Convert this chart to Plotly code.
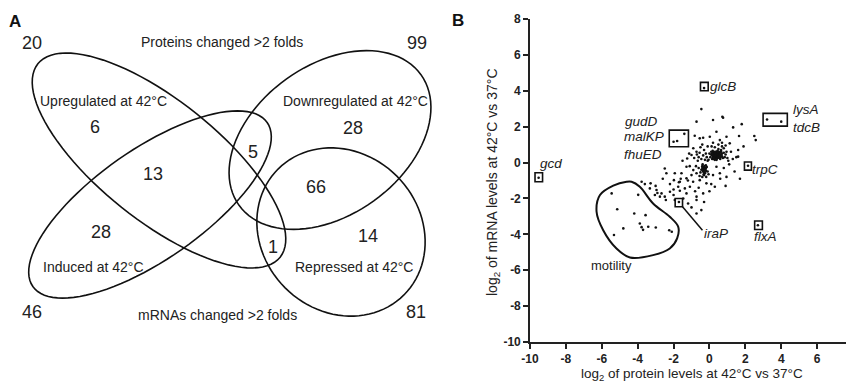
import numpy as np
import plotly.graph_objects as go

W, H = 854, 382
OFF = 8  # page body margin of the browser, compensated in layout positions
FONT = "Liberation Sans, Arial, sans-serif"

# ---------------- Panel A data (Venn counts) ----------------
venn_counts = ["20", "99", "6", "28", "5", "13", "66", "28", "14", "1", "46", "81"]
venn_labels = ["Proteins changed >2 folds", "Upregulated at 42°C", "Downregulated at 42°C",
               "Induced at 42°C", "Repressed at 42°C", "mRNAs changed >2 folds"]

# ---------------- Panel B data ----------------
cloud_x = [-0.45, -0.72, 0.2, 0.72, 0.76, 0.39, 1.32, 1.8, 1.65, 2.5, 2.58, -0.82, -0.54, -0.35, 0.02,
           0.95, 0.58, 1.13, -1.0, -1.13, -0.72, -1.24, 1.6, 1.6, -0.9, -0.72, -1.0, -1.28, -1.56, -1.93,
           -2.49, -2.4, -1.98, -1.65, -1.28, -0.91, -0.54, -0.17, 0.3, 0.58, 0.39, -3.78, -3.28, -3.32,
           -2.95, -2.67, -2.49, -2.2, -2.0, -1.74, -1.65, -1.37, -1.28, -1.09, -1.46, -0.72, -0.35, -0.72,
           -0.45, -0.72, -2.43, -2.76, -3.04, -1.93, -1.19,
           0.05, 0.1, 0.15, 0.2, 0.25, 0.3, 0.35, 0.4, 0.45, 0.5, 0.55, 0.6, 0.65, 0.7, 0.8, 0.85, 0.2, 0.3,
           0.4, 0.35, 0.5, 0.25, 0.45, 0.6, 0.15, 0.55, 0.3, 0.7, 0.4, 0.1, 0.65, 0.75, 0.9, 0.5, 0.33, 0.43,
           0.38, 0.27, 0.48, 0.58, 0.22, 0.62, 0.18, 0.95, 0.0, -0.05, 1.0, 0.8, 0.3, 0.12,
           -0.4, -0.3, -0.2, -0.35, -0.25, -0.45, -0.15, -0.3, -0.5, -0.2, -0.4, -0.1, -0.28, -0.33, -0.22,
           -0.6, -0.55, -0.05, -0.38, -0.18,
           -0.7, -0.6, -0.55, -0.45, -0.35, -0.25, -0.2, -0.15, -0.1, -0.65, -0.85, -0.3, -0.5, -0.1, -0.4,
           0.2, 0.5, 0.7, 0.9, 1.2, 1.3, 1.1, 0.8, 0.6, 0.2, 0.1, -0.8, -1.1, -1.5, -1.2, -1.6, -2.2, -2.6,
           -3.0, -3.6, -2.0, -1.0, -0.3, 0.0, 1.5, 1.4, 0.9,
           0.25, 0.35, 0.45, 0.3, 0.4, 0.5, 0.2, 0.6, 0.35, 0.45, 0.28, 0.52, 0.42, 0.32, 0.38, 0.48, 0.55,
           0.15, 0.65, 0.25, -0.25, -0.35, -0.3, -0.2, -0.4, -0.28, -0.32, -0.22, -0.38, -0.27,
           0.7, -0.9, -0.75, 1.7, 1.9, -1.7, -2.9, -0.6, 0.95, 1.05]
cloud_y = [2.98, 2.28, 2.37, 2.55, 2.5, 1.72, 1.96, 2.14, 1.48, 1.48, 1.25, 1.49, 1.35, 1.38, 1.44,
           1.44, 1.25, 1.07, 0.42, 0.5, 0.6, 0.23, 0.7, 0.33, -0.42, -0.6, -0.7, -0.23, -0.6, -0.6,
           -0.33, -0.6, -0.98, -1.07, -0.88, -1.07, -0.98, -1.16, -1.35, -0.6, -0.23, -1.07, -1.16, -1.44,
           -1.53, -1.72, -1.9, -1.63, -1.81, -1.35, -1.57, -1.44, -1.72, -1.35, -2.0, -1.9, -1.72, -2.09,
           -2.65, -2.84, -2.09, -1.9, -1.81, -2.09, -2.28,
           0.3, 0.45, 0.2, 0.55, 0.35, 0.5, 0.25, 0.6, 0.4, 0.3, 0.5, 0.2, 0.45, 0.35, 0.55, 0.3, 0.3, 0.4,
           0.35, 0.55, 0.45, 0.6, 0.65, 0.6, 0.4, 0.25, 0.15, 0.5, 0.15, 0.6, 0.7, 0.25, 0.45, 0.75, 0.3, 0.5,
           0.45, 0.45, 0.35, 0.38, 0.2, 0.3, 0.65, 0.6, 0.5, 0.15, 0.25, 0.8, 0.85, 0.9,
           -0.2, -0.3, -0.45, -0.5, -0.6, -0.4, -0.25, -0.7, -0.55, -0.15, -0.8, -0.5, -0.4, -0.25, -0.35,
           -0.3, -0.75, -0.65, -0.1, -0.8,
           0.45, 0.3, 0.55, 0.2, 0.4, 0.15, 0.5, 0.3, 0.1, 0.1, 0.25, 0.7, 0.85, 0.9, 1.0,
           1.1, 1.0, 1.1, 0.95, 0.6, 0.2, -0.1, -0.3, -0.9, -0.7, -1.2, -1.6, -0.2, 0.1, -1.0, -0.9, -1.2, -0.9,
           -1.3, -1.2, -1.5, -2.5, -2.2, -1.6, 0.3, -0.5, -1.3,
           0.45, 0.35, 0.5, 0.55, 0.3, 0.4, 0.4, 0.45, 0.6, 0.25, 0.3, 0.55, 0.45, 0.4, 0.2, 0.6, 0.35,
           0.5, 0.6, 0.25, -0.35, -0.45, -0.55, -0.3, -0.3, -0.2, -0.65, -0.5, -0.4, -0.35,
           0.9, 0.8, -0.2, -0.9, 0.9, -1.1, -1.7, -1.4, -0.8, 0.1]

motility_x = [-5.45, -5.14, -4.19, -3.56, -4.8, -5.32, -3.88, -3.78, -3.7, -3.41, -2.99, -2.24, -2.1, -3.97]
motility_y = [-1.72, -2.6, -2.84, -2.93, -3.67, -4.04, -3.4, -3.6, -3.75, -3.58, -3.62, -3.77, -3.86, -1.8]

named_genes = ["glcB", "gcd", "lysA", "tdcB", "gudD", "malKP", "fhuED", "trpC", "iraP", "flxA"]
named_x = [-0.3, -9.52, 3.21, 4.0, -2.0, -1.8, -1.4, 2.15, -1.7, 2.7]
named_y = [4.15, -0.85, 2.4, 2.28, 1.16, 1.2, 1.6, -0.18, -2.2, -3.49]

x_ticks = [-10, -8, -6, -4, -2, 0, 2, 4, 6, 8]
y_ticks = [-10, -8, -6, -4, -2, 0, 2, 4, 6, 8]


def px(x):
    return (x - OFF) / W


def py(y):
    return 1 - (y - OFF) / H


fig = go.Figure()

all_x = cloud_x + motility_x + named_x
all_y = cloud_y + motility_y + named_y
fig.add_trace(go.Scatter(x=all_x, y=all_y, mode="markers",
                         marker=dict(size=2.6, color="#111", line=dict(width=0)),
                         showlegend=False, hoverinfo="skip"))

# motility loop
loop_x = [-4.34, -3.88, -3.14, -2.21, -1.74, -1.8, -2.21, -3.14, -4.43, -5.18, -5.92, -6.29, -6.1, -5.36, -4.62, -4.34]
loop_y = [-1.07, -1.35, -2.28, -3.02, -3.58, -4.23, -4.79, -5.16, -5.29, -4.79, -3.77, -2.74, -1.81, -1.29, -1.07, -1.07]
fig.add_trace(go.Scatter(x=loop_x, y=loop_y, mode="lines",
                         line=dict(color="#111", width=2, shape="spline", smoothing=1.0),
                         showlegend=False, hoverinfo="skip"))
# iraP leader line
fig.add_trace(go.Scatter(x=[-1.5, -0.39], y=[-2.46, -3.77], mode="lines",
                         line=dict(color="#111", width=1.5), showlegend=False, hoverinfo="skip"))

# boxes around named genes
boxes = [(-0.5, -0.07, 4.0, 4.47), (-9.72, -9.3, -1.07, -0.57), (-2.24, -1.17, 0.88, 1.81),
         (2.99, 4.34, 2.03, 2.74), (1.95, 2.34, -0.42, 0.03), (-1.91, -1.5, -2.46, -2.0),
         (2.52, 2.95, -3.73, -3.26)]
for x0, x1, y0, y1 in boxes:
    fig.add_shape(type="rect", xref="x", yref="y", x0=x0, x1=x1, y0=y0, y1=y1,
                  line=dict(color="#111", width=1.6))

gene_labels = [("glcB", 0.76, 4.23), ("gcd", -8.85, -0.05),
               ("gudD", -3.78, 2.27), ("malKP", -3.65, 1.44),
               ("fhuED", -3.69, 0.47), ("lysA", 5.36, 2.93),
               ("tdcB", 5.4, 1.94), ("trpC", 3.08, -0.36),
               ("iraP", 0.39, -3.95), ("flxA", 3.14, -4.14)]
for t, gx, gy in gene_labels:
    fig.add_annotation(x=gx, y=gy, xref="x", yref="y", text=f"<i>{t}</i>", showarrow=False,
                       xanchor="center", yanchor="middle",
                       font=dict(family=FONT, size=13.5, color="#222"))
fig.add_annotation(x=-5.45, y=-5.75, xref="x", yref="y", text="motility", showarrow=False,
                   xanchor="center", yanchor="middle",
                   font=dict(family=FONT, size=13, color="#222"))

fig.update_xaxes(range=[-10, 8], domain=[px(530), px(853)], tickvals=x_ticks,
                 ticktext=[str(v) for v in x_ticks], showgrid=False, zeroline=False,
                 showline=True, linecolor="#222", linewidth=1.6, ticks="outside", ticklen=5,
                 tickwidth=1.6, tickcolor="#222", automargin=False,
                 tickfont=dict(family=FONT, size=12, color="#222", weight="bold"))
fig.update_yaxes(range=[-10, 8], domain=[py(342), py(19)], tickvals=y_ticks,
                 ticktext=[str(v) for v in y_ticks], showgrid=False, zeroline=False,
                 showline=True, linecolor="#222", linewidth=1.6, ticks="outside", ticklen=5,
                 tickwidth=1.6, tickcolor="#222", automargin=False,
                 tickfont=dict(family=FONT, size=12, color="#222", weight="bold"))

# axis titles
fig.add_annotation(x=px(692), y=py(374), xref="paper", yref="paper",
                   text="log<sub>2</sub> of protein levels at 42°C vs 37°C", showarrow=False,
                   xanchor="center", yanchor="middle", font=dict(family=FONT, size=13.5, color="#222"))
fig.add_annotation(x=px(493), y=py(182), xref="paper", yref="paper",
                   text="log<sub>2</sub> of mRNA levels at 42°C vs 37°C", showarrow=False,
                   textangle=-90, xanchor="center", yanchor="middle",
                   font=dict(family=FONT, size=14, color="#222"))


# ---------------- Panel A: Venn ellipses (pixel geometry -> paper) ----------------
def ellipse_path(cx, cy, a, b, ang_deg, n=100):
    th = np.linspace(0, 2 * np.pi, n, endpoint=False)
    ang = np.deg2rad(ang_deg)
    xs = cx + a * np.cos(th) * np.cos(ang) - b * np.sin(th) * np.sin(ang)
    ys = cy + a * np.cos(th) * np.sin(ang) + b * np.sin(th) * np.cos(ang)
    pts = [f"{px(x):.5f},{py(y):.5f}" for x, y in zip(xs, ys)]
    return "M " + " L ".join(pts) + " Z"


ellipses = [(159, 160.5, 155, 60, 38.6),   # Upregulated
            (150, 204.5, 143, 55, -35),    # Induced
            (330, 140, 112, 75, -35.7),    # Downregulated
            (341, 232, 89, 79, 45)]        # Repressed
for e in ellipses:
    fig.add_shape(type="path", xref="paper", yref="paper", path=ellipse_path(*e),
                  line=dict(color="#111", width=1.6), layer="above")

count_pos = [(32, 43), (417, 43), (95, 127), (353, 128), (253, 152), (153, 174), (316, 187),
             (101, 232), (368, 236), (273, 247), (32, 312), (416, 312)]
for txt, (x, y) in zip(venn_counts, count_pos):
    fig.add_annotation(x=px(x), y=py(y), xref="paper", yref="paper", text=txt, showarrow=False,
                       xanchor="center", yanchor="middle",
                       font=dict(family=FONT, size=18, color="#222"))

label_pos = [(222, 42), (103, 101), (355, 101), (93, 267), (354, 267), (217, 315)]
for txt, (x, y) in zip(venn_labels, label_pos):
    fig.add_annotation(x=px(x), y=py(y), xref="paper", yref="paper", text=txt, showarrow=False,
                       xanchor="center", yanchor="middle",
                       font=dict(family=FONT, size=14, color="#222"))

fig.add_annotation(x=px(15), y=py(22), xref="paper", yref="paper", text="<b>A</b>", showarrow=False,
                   xanchor="center", yanchor="middle", font=dict(family=FONT, size=17, color="#111"))
fig.add_annotation(x=px(458), y=py(20), xref="paper", yref="paper", text="<b>B</b>", showarrow=False,
                   xanchor="center", yanchor="middle", font=dict(family=FONT, size=17, color="#111"))

fig.update_layout(width=W, height=H, margin=dict(l=0, r=0, t=0, b=0, autoexpand=False),
                  paper_bgcolor="white", plot_bgcolor="white", showlegend=False)

fig.write_html("out.html")
